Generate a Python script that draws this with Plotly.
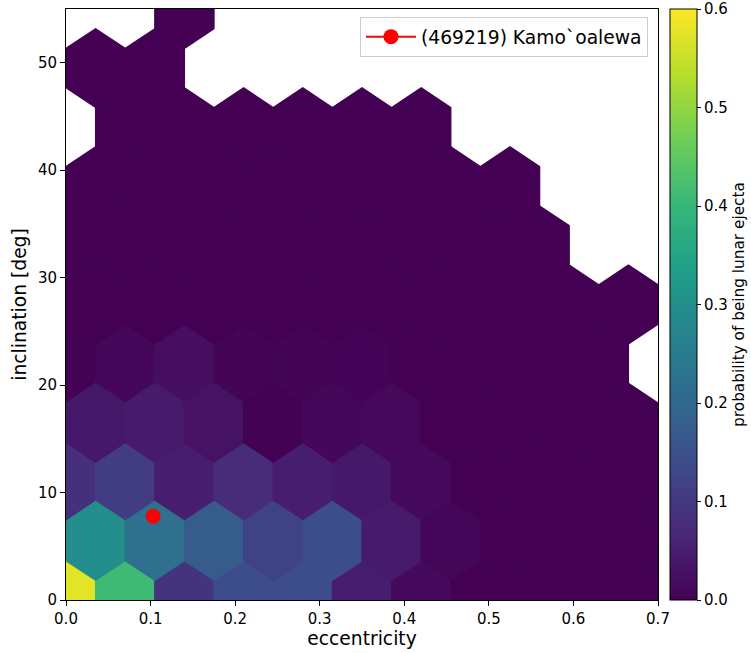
import plotly.graph_objects as go
from plotly.colors import sample_colorscale

# ---- data (hexbin cells) ----
# grid 1 hex centers
ecc_grid1 = [0.0, 0.07, 0.14, 0.21, 0.28, 0.35, 0.42, 0.49, 0.56, 0.63, 0.70]
inc_grid1 = [0, 11, 22, 33, 44, 55]
# grid 2 (offset) hex centers
ecc_grid2 = [0.035, 0.105, 0.175, 0.245, 0.315, 0.385, 0.455, 0.525, 0.595, 0.665]
inc_grid2 = [5.5, 16.5, 27.5, 38.5, 49.5]

N = None
prob_grid1 = [
    [0.575, 0.41, 0.09, 0.14, 0.14, 0.05, 0.015, 0, 0, 0, 0],      # inc 0
    [0.08, 0.11, 0.05, 0.075, 0.05, 0.04, 0.015, 0, 0, 0, 0],      # inc 11
    [0.002, 0.01, 0.022, 0.006, 0.006, 0.004, 0, 0, 0, 0, N],       # inc 22
    [0, 0, 0, 0, 0, 0, 0, 0, 0, N, N],                              # inc 33
    [N, 0, 0, 0, 0, 0, 0, N, N, N, N],                              # inc 44
    [N, N, 0, N, N, N, N, N, N, N, N],                              # inc 55
]
prob_grid2 = [
    [0.295, 0.22, 0.175, 0.12, 0.145, 0.045, 0.008, 0, 0, 0],       # inc 5.5
    [0.04, 0.042, 0.03, 0.002, 0.01, 0.012, 0, 0, 0, 0],            # inc 16.5
    [0, 0, 0, 0, 0, 0, 0, 0, 0, 0],                                 # inc 27.5
    [0, 0, 0, 0, 0, 0, 0, 0, N, N],                                 # inc 38.5
    [0, 0, N, N, N, N, N, N, N, N],                                 # inc 49.5
]

kamo_ecc = [0.103]
kamo_inc = [7.8]
kamo_name = "(469219) Kamo`oalewa"

x_ticks = [0.0, 0.1, 0.2, 0.3, 0.4, 0.5, 0.6, 0.7]
y_ticks = [0, 10, 20, 30, 40, 50]
cbar_ticks = [0.0, 0.1, 0.2, 0.3, 0.4, 0.5, 0.6]
vmin, vmax = 0.0, 0.6

# ---- hex geometry (matplotlib hexbin style, pointy top) ----
sx = ecc_grid1[1] - ecc_grid1[0]
sy = inc_grid1[1] - inc_grid1[0]
offs = [(0.5, -0.5 / 3), (0.5, 0.5 / 3), (0, 1 / 3), (-0.5, 0.5 / 3),
        (-0.5, -0.5 / 3), (0, -1 / 3), (0.5, -0.5 / 3)]


def color_of(v):
    t = (v - vmin) / (vmax - vmin)
    t = min(max(t, 0.0), 1.0)
    return sample_colorscale("Viridis", [t])[0]


fig = go.Figure()


def add_grid(xs, ys, vals):
    for j, y0 in enumerate(ys):
        for i, x0 in enumerate(xs):
            v = vals[j][i]
            if v is None:
                continue
            c = color_of(v)
            fig.add_trace(go.Scatter(
                x=[x0 + a * sx for a, b in offs],
                y=[y0 + b * sy for a, b in offs],
                mode="lines", fill="toself", fillcolor=c,
                line=dict(color=c, width=1.3),
                hoverinfo="skip", showlegend=False))


add_grid(ecc_grid1, inc_grid1, prob_grid1)
add_grid(ecc_grid2, inc_grid2, prob_grid2)

# colorbar carrier
fig.add_trace(go.Scatter(
    x=[None], y=[None], mode="markers", showlegend=False, hoverinfo="skip",
    marker=dict(color=[vmin], cmin=vmin, cmax=vmax, colorscale="Viridis",
                showscale=True,
                colorbar=dict(
                    thickness=27, thicknessmode="pixels",
                    len=591, lenmode="pixels",
                    x=(670 - 66) / 592, xanchor="left", xpad=0,
                    y=0.5, yanchor="middle", ypad=0,
                    outlinewidth=1, outlinecolor="black",
                    tickvals=cbar_ticks,
                    ticktext=[f"{v:.1f}" for v in cbar_ticks],
                    ticks="outside", ticklen=4, tickwidth=1, tickcolor="black",
                    tickfont=dict(size=15, color="black"),
                    title=dict(text="probability of being lunar ejecta", side="right",
                               font=dict(size=15.3, color="black")),
                ))))

fig.add_trace(go.Scatter(
    x=kamo_ecc, y=kamo_inc, mode="lines+markers", name=kamo_name,
    line=dict(color="red", width=2),
    marker=dict(color="red", size=15),
    hoverinfo="skip"))

axis_common = dict(showline=True, linecolor="black", linewidth=1, mirror=True,
                   ticks="outside", ticklen=5, tickwidth=1, tickcolor="black",
                   showgrid=False, zeroline=False,
                   tickfont=dict(size=15, color="black"))

fig.update_layout(
    width=751, height=653,
    margin=dict(l=66, r=93, t=9, b=53, autoexpand=False),
    paper_bgcolor="white", plot_bgcolor="white",
    font=dict(family="DejaVu Sans", color="black"),
    xaxis=dict(range=[0, 0.7], tickvals=x_ticks,
               ticktext=[f"{v:.1f}" for v in x_ticks],
               title=dict(text="eccentricity", font=dict(size=18.7), standoff=4),
               **axis_common),
    yaxis=dict(range=[0, 55], tickvals=y_ticks,
               ticktext=[str(v) for v in y_ticks],
               title=dict(text="inclination [deg]", font=dict(size=18.7), standoff=6),
               **axis_common),
    legend=dict(x=(648 - 66) / 592, xanchor="right", y=(600 - 17) / 591, yanchor="top",
                bgcolor="white", bordercolor="#cccccc", borderwidth=1,
                itemwidth=50, tracegroupgap=0,
                font=dict(size=18.7, color="black")),
    showlegend=True,
)

fig.write_html("out.html")
